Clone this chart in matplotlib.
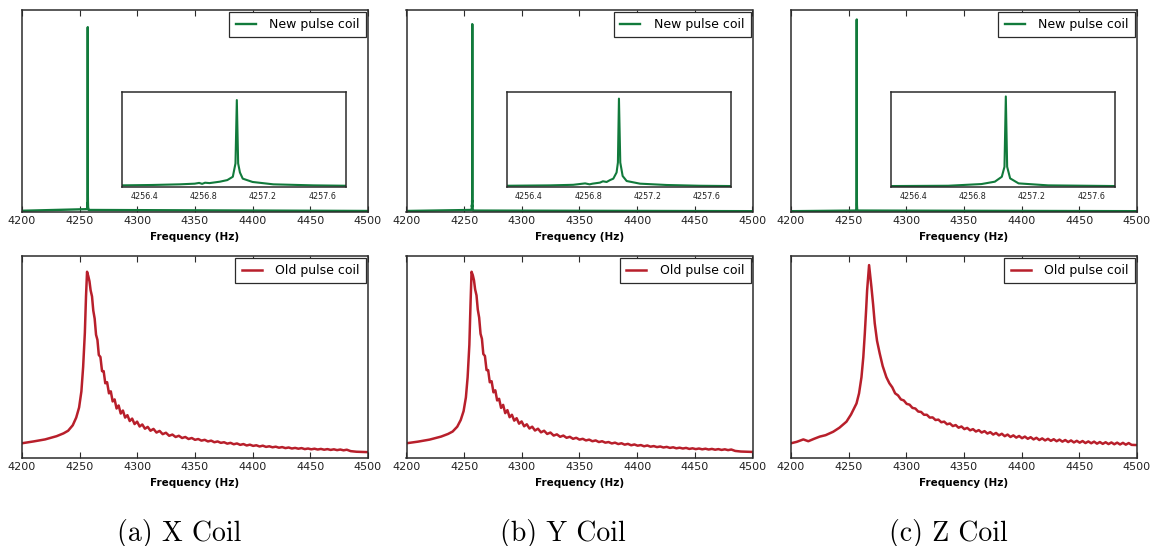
import numpy as np
import matplotlib
matplotlib.use("Agg")
import matplotlib.pyplot as plt

# ------------------ DATA ------------------

XLIM       = (4200, 4500)
INSET_XLIM = (4256.25, 4257.76)
MAIN_TICKS  = [4200, 4250, 4300, 4350, 4400, 4450, 4500]
INSET_TICKS = [4256.4, 4256.8, 4257.2, 4257.6]
CAPTIONS    = ["(a) X Coil", "(b) Y Coil", "(c) Z Coil"]

# new pulse coil (relative amplitude)
new_x_freq = [4200, 4256.25, 4256.45, 4256.64, 4256.74, 4256.77, 4256.79, 4256.81, 4256.84,
              4256.91, 4256.96, 4256.997, 4257.015, 4257.024, 4257.033, 4257.045, 4257.064,
              4257.13, 4257.27, 4257.54, 4257.76, 4500]
new_x_amp  = [0.006, 0.014, 0.018, 0.025, 0.032, 0.040, 0.030, 0.042, 0.038,
              0.053, 0.070, 0.105, 0.246, 0.915, 0.246, 0.150, 0.085,
              0.050, 0.025, 0.014, 0.010, 0.005]

new_y_freq = [4200, 4256.255, 4256.545, 4256.70, 4256.78, 4256.81, 4256.83, 4256.88, 4256.90,
              4256.925, 4256.948, 4256.97, 4256.992, 4257.001, 4257.008, 4257.017, 4257.033,
              4257.06, 4257.15, 4257.33, 4257.55, 4257.76, 4500]
new_y_amp  = [0.005, 0.010, 0.014, 0.020, 0.035, 0.025, 0.032, 0.043, 0.057,
              0.050, 0.070, 0.085, 0.150, 0.255, 0.930, 0.255, 0.113,
              0.060, 0.032, 0.018, 0.010, 0.007, 0.004]

new_z_freq = [4200, 4256.267, 4256.636, 4256.86, 4256.95, 4256.997, 4257.015, 4257.024,
              4257.033, 4257.053, 4257.11, 4257.31, 4257.76, 4500]
new_z_amp  = [0.004, 0.007, 0.010, 0.028, 0.053, 0.105, 0.210, 0.953,
              0.210, 0.088, 0.035, 0.014, 0.007, 0.004]

# old pulse coil (X and Y share the same frequency grid)
old_xy_freq = [4200, 4210, 4220, 4230, 4236, 4240, 4244, 4247, 4249.5, 4251.5, 4253, 4254.5,
               4255.5, 4256.4, 4257.5, 4258.5, 4259.5, 4260.7, 4261.8, 4263.0, 4264.2, 4265.4,
               4266.6, 4268.0, 4269.4, 4270.8, 4272.2, 4273.8, 4275.4, 4277.0, 4278.6, 4280.3,
               4282.0, 4283.8, 4285.6, 4287.5, 4289.4, 4291.4, 4293.4, 4295.5, 4297.6, 4299.8,
               4302.0, 4304.3, 4306.6, 4309.0, 4311.4, 4314.0, 4316.6, 4319.3, 4322.0, 4324.8,
               4327.6, 4330.4, 4333.2, 4336.0, 4338.8, 4341.6, 4344.4, 4347.2, 4350.0, 4352.8,
               4355.6, 4358.4, 4361.2, 4364.0, 4366.8, 4369.6, 4372.4, 4375.2, 4378.0, 4380.8,
               4383.6, 4386.4, 4389.2, 4392.0, 4394.8, 4397.6, 4400.4, 4403.2, 4406.0, 4408.8,
               4411.6, 4414.4, 4417.2, 4420.0, 4422.8, 4425.6, 4428.4, 4431.2, 4434.0, 4436.8,
               4439.6, 4442.4, 4445.2, 4448.0, 4450.8, 4453.6, 4456.4, 4459.2, 4462.0, 4464.8,
               4467.6, 4470.4, 4473.2, 4476.0, 4478.8, 4481.6, 4485.0, 4490.0, 4500.0]
old_x_amp = [0.073, 0.082, 0.092, 0.108, 0.122, 0.135, 0.162, 0.200, 0.250, 0.330, 0.450, 0.620,
             0.800, 0.922, 0.900, 0.875, 0.830, 0.800, 0.730, 0.690, 0.610, 0.585,
             0.510, 0.500, 0.430, 0.430, 0.370, 0.375, 0.320, 0.330, 0.280, 0.290,
             0.245, 0.260, 0.220, 0.235, 0.200, 0.212, 0.183, 0.195, 0.168, 0.180,
             0.156, 0.166, 0.145, 0.154, 0.135, 0.144, 0.126, 0.134, 0.118, 0.125,
             0.110, 0.116, 0.104, 0.110, 0.099, 0.104, 0.094, 0.099, 0.090, 0.094,
             0.086, 0.090, 0.082, 0.086, 0.078, 0.082, 0.075, 0.078, 0.071, 0.075,
             0.068, 0.072, 0.065, 0.069, 0.062, 0.066, 0.060, 0.063, 0.057, 0.061,
             0.055, 0.058, 0.053, 0.056, 0.051, 0.054, 0.049, 0.052, 0.047, 0.050,
             0.046, 0.049, 0.044, 0.047, 0.043, 0.046, 0.042, 0.045, 0.041, 0.044,
             0.040, 0.043, 0.039, 0.042, 0.038, 0.041, 0.034, 0.031, 0.029]
old_y_amp = [0.073, 0.081, 0.091, 0.106, 0.119, 0.131, 0.155, 0.188, 0.232, 0.300, 0.400, 0.560,
             0.760, 0.922, 0.905, 0.880, 0.835, 0.805, 0.735, 0.695, 0.615, 0.590,
             0.515, 0.505, 0.435, 0.435, 0.375, 0.380, 0.325, 0.335, 0.285, 0.293,
             0.248, 0.263, 0.222, 0.237, 0.202, 0.214, 0.185, 0.197, 0.170, 0.181,
             0.157, 0.167, 0.146, 0.155, 0.136, 0.145, 0.127, 0.135, 0.119, 0.126,
             0.111, 0.117, 0.105, 0.111, 0.100, 0.105, 0.095, 0.100, 0.091, 0.095,
             0.087, 0.091, 0.083, 0.087, 0.079, 0.083, 0.076, 0.079, 0.072, 0.076,
             0.069, 0.073, 0.066, 0.070, 0.063, 0.067, 0.061, 0.064, 0.058, 0.062,
             0.056, 0.059, 0.054, 0.057, 0.052, 0.055, 0.050, 0.053, 0.048, 0.051,
             0.047, 0.050, 0.045, 0.048, 0.044, 0.047, 0.043, 0.046, 0.042, 0.045,
             0.041, 0.044, 0.040, 0.043, 0.039, 0.042, 0.035, 0.032, 0.030]

old_z_freq = [4200, 4205, 4210.7, 4215, 4220, 4225, 4230, 4236.6, 4242, 4248.1, 4252, 4256.8,
              4259, 4261.1, 4262.7, 4264, 4265.2, 4266, 4267.7, 4269.7, 4271.2, 4272.6,
              4274.6, 4276.9, 4279.5, 4282.7, 4285.3, 4287.8, 4290.3, 4292.8, 4295.3, 4297.8,
              4300.3, 4302.8, 4305.3, 4307.8, 4310.3, 4312.8, 4315.3, 4317.8, 4320.3, 4322.8,
              4325.3, 4327.8, 4330.3, 4332.8, 4335.3, 4337.8, 4340.3, 4342.8, 4345.3, 4347.8,
              4350.3, 4352.8, 4355.3, 4357.8, 4360.3, 4362.8, 4365.3, 4367.8, 4370.3, 4372.8,
              4375.3, 4377.8, 4380.3, 4382.8, 4385.3, 4387.8, 4390.3, 4392.8, 4395.3, 4397.8,
              4400.3, 4402.8, 4405.3, 4407.8, 4410.3, 4412.8, 4415.3, 4417.8, 4420.3, 4422.8,
              4425.3, 4427.8, 4430.3, 4432.8, 4435.3, 4437.8, 4440.3, 4442.8, 4445.3, 4447.8,
              4450.3, 4452.8, 4455.3, 4457.8, 4460.3, 4462.8, 4465.3, 4467.8, 4470.3, 4472.8,
              4475.3, 4477.8, 4480.3, 4482.8, 4485.3, 4487.8, 4490.3, 4492.8, 4495.3, 4500]
old_z_amp = [0.073, 0.080, 0.092, 0.083, 0.095, 0.106, 0.113, 0.130, 0.150, 0.180, 0.215, 0.270,
             0.320, 0.400, 0.500, 0.617, 0.740, 0.830, 0.955, 0.848, 0.760, 0.667,
             0.580, 0.518, 0.455, 0.400, 0.370, 0.350, 0.320, 0.310, 0.290, 0.285,
             0.268, 0.264, 0.248, 0.245, 0.230, 0.228, 0.214, 0.214, 0.200, 0.201,
             0.188, 0.190, 0.177, 0.180, 0.167, 0.171, 0.158, 0.163, 0.150, 0.156,
             0.143, 0.149, 0.137, 0.143, 0.131, 0.138, 0.126, 0.133, 0.121, 0.128,
             0.116, 0.124, 0.112, 0.120, 0.108, 0.116, 0.104, 0.112, 0.101, 0.109,
             0.098, 0.106, 0.095, 0.103, 0.092, 0.100, 0.089, 0.097, 0.087, 0.095,
             0.085, 0.093, 0.083, 0.091, 0.081, 0.089, 0.079, 0.087, 0.077, 0.085,
             0.076, 0.084, 0.074, 0.082, 0.073, 0.081, 0.071, 0.079, 0.070, 0.078,
             0.069, 0.077, 0.068, 0.076, 0.067, 0.075, 0.066, 0.074, 0.065, 0.064]

NEW_DATA = [(new_x_freq, new_x_amp), (new_y_freq, new_y_amp), (new_z_freq, new_z_amp)]
OLD_DATA = [(old_xy_freq, old_x_amp), (old_xy_freq, old_y_amp), (old_z_freq, old_z_amp)]

GREEN = "#117a3b"
RED   = "#b81f2b"
SPINE = "#2b2b2b"

# ------------------ FIGURE ------------------

W, H = 1151, 546
fig = plt.figure(figsize=(W / 100, H / 100), dpi=100)

col_left  = [22, 406.5, 791]
ax_w      = 346
ax_h      = 202
cap_x     = [179, 563, 948]


def style_axes(ax, fs=8, length=4):
    for sp in ax.spines.values():
        sp.set_color(SPINE)
        sp.set_linewidth(1.1)
    ax.set_yticks([])
    ax.tick_params(axis="x", direction="in", top=True, length=length, width=0.8,
                   color=SPINE, labelsize=fs, labelcolor="#222222", pad=3)


def add_legend(ax):
    leg = ax.legend(loc="upper right", fontsize=9, fancybox=False, borderaxespad=0.15,
                    handlelength=1.6, handletextpad=1.1, borderpad=0.5, framealpha=1)
    leg.get_frame().set_edgecolor(SPINE)
    leg.get_frame().set_linewidth(0.9)


for i in range(3):
    # -------- top row: new pulse coil --------
    ax = fig.add_axes([col_left[i] / W, 1 - 212 / H, ax_w / W, ax_h / H])
    f, a = NEW_DATA[i]
    ax.plot(f, a, color=GREEN, lw=1.7, label="New pulse coil")
    ax.set_xlim(*XLIM)
    ax.set_ylim(0, 1)
    ax.set_xticks(MAIN_TICKS)
    style_axes(ax)
    ax.set_xlabel("Frequency (Hz)", fontsize=7.5, fontweight="bold", labelpad=4)
    add_legend(ax)

    ins = ax.inset_axes([100 / ax_w, 25.3 / ax_h, 224 / ax_w, 94.7 / ax_h])
    ins.plot(f, a, color=GREEN, lw=1.5)
    ins.set_xlim(*INSET_XLIM)
    ins.set_ylim(0, 1)
    ins.set_xticks(INSET_TICKS)
    ins.set_xticklabels([f"{t:.1f}" for t in INSET_TICKS])
    style_axes(ins, fs=5.8, length=0)
    ins.tick_params(axis="x", top=False, pad=4)

    # -------- bottom row: old pulse coil --------
    ax2 = fig.add_axes([col_left[i] / W, 1 - 458 / H, ax_w / W, ax_h / H])
    f2, a2 = OLD_DATA[i]
    ax2.plot(f2, a2, color=RED, lw=1.8, label="Old pulse coil")
    ax2.set_xlim(*XLIM)
    ax2.set_ylim(0, 1)
    ax2.set_xticks(MAIN_TICKS)
    style_axes(ax2)
    ax2.set_xlabel("Frequency (Hz)", fontsize=7.5, fontweight="bold", labelpad=4)
    add_legend(ax2)

    fig.text(cap_x[i] / W, 1 - 533 / H, CAPTIONS[i], ha="center", va="center",
             fontsize=20, family="cmr10")

fig.savefig("out.png", dpi=100)
